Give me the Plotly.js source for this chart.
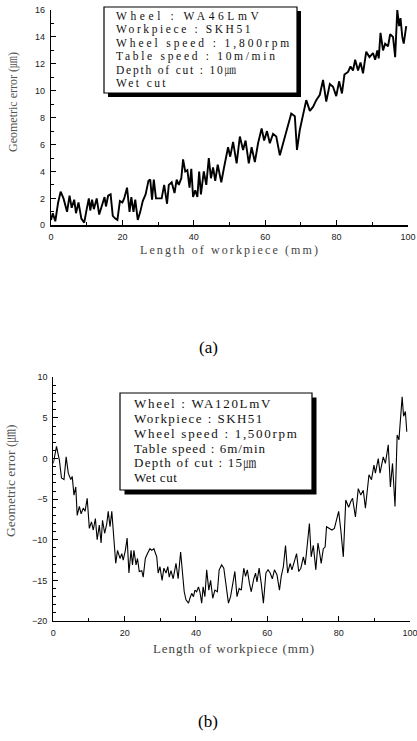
<!DOCTYPE html>
<html><head><meta charset="utf-8">
<script src="https://cdn.plot.ly/plotly-3.0.1.min.js"></script>
<style>html,body{margin:0;padding:0;background:#fff;overflow:hidden}</style>
</head><body><div id="chart" style="width:417px;height:741px"></div>
<script>
// ---- data (a) ----
const topX = [0,0.5,1.2,2,2.7,3.5,4.5,5.2,5.8,6.5,7,7.7,8.5,9.3,10,10.6,11,11.5,12,12.8,13.5,14.2,15,15.4,16,16.7,17.3,18,18.6,19.3,20,20.5,21.3,22,22.5,23.1,23.6,24.3,25,25.7,26.5,27.3,27.8,28.3,28.8,29.4,30,31,31.7,32.5,33,33.8,34.6,35.2,35.8,36.5,37,37.6,38.2,38.8,39.3,39.8,40.4,41,41.5,42,42.8,43.5,44.2,44.8,45.4,46,46.7,47.7,48.4,49,49.6,50.2,51,52,52.9,53.8,54.5,55.4,56.2,57.1,58,59,59.7,60.5,61.3,62.2,63.1,64.1,65,65.9,67.3,68.3,68.9,69.7,70.6,71.5,72.5,73.4,74.3,75.3,76.2,77.1,78.1,79,79.9,80.7,81.5,82.2,83.2,83.9,84.6,85.2,86,86.7,87.4,88.3,89.2,90.2,90.8,91.4,91.8,92.3,93,93.6,94.4,95,95.8,96.4,97,97.5,97.9,98.4,98.8,99.5];
const topY = [0.4,0.9,0.3,1.7,2.5,2.0,1.0,2.2,1.3,1.9,0.9,1.7,0.5,0.2,1.2,2.0,1.1,1.9,1.2,2.0,0.8,1.5,2.1,1.4,2.2,2.3,0.7,0.5,0.4,1.8,1.7,2.0,2.8,1.0,2.1,1.0,1.9,0.4,1.0,1.8,2.3,3.3,3.4,1.9,3.4,2.0,2.0,2.0,3.0,1.6,3.0,3.2,2.4,3.4,3.0,3.5,4.9,4.0,4.1,2.8,4.2,2.1,2.6,2.1,4.0,2.3,4.0,3.0,5.0,3.5,4.3,3.3,4.5,3.2,4.2,5.0,5.8,5.1,6.2,4.6,6.6,5.6,6.3,4.6,5.8,4.7,6.1,7.2,6.3,7.0,6.1,6.8,6.6,5.2,6.1,6.8,8.3,8.1,5.6,7.1,8.2,9.3,8.5,8.8,9.3,9.7,10.8,9.2,10.5,10.3,9.6,10.7,9.8,11.2,11.4,11.8,11.5,12.3,11.5,12.1,11.3,12.9,12.5,12.8,12.3,13.0,12.4,14.3,13.0,13.5,13.3,14.2,14.0,12.5,16.0,14.8,15.4,14.0,13.5,14.8];
// ---- data (b) ----
const botX = [0,0.9,1.7,2.3,3.0,3.6,4.2,4.9,5.3,5.8,6.3,6.7,7.3,7.8,8.4,8.9,9.5,10.1,10.7,11.2,11.8,12.3,12.9,13.4,13.8,14.4,15,15.4,15.9,16.4,17.0,17.5,18.0,18.7,19.2,19.6,20.2,20.7,21.2,21.8,22.2,22.6,23.2,23.6,24.1,24.8,25.2,25.8,26.4,27.1,27.6,28.2,29,29.4,29.9,30.5,31,31.6,32.1,32.5,33,33.6,34.4,35,35.7,36.3,36.7,37.2,37.9,38.3,38.8,39.3,39.7,40.2,40.7,41.1,41.6,42,42.5,43,43.6,44.1,44.7,45.3,46,46.5,47.2,47.8,48.4,49.1,49.7,50.2,50.9,51.5,52.1,52.7,53.4,53.9,54.4,55,55.5,56.2,56.7,57.1,57.7,58.3,58.9,59.6,60.2,60.8,61.4,62,62.7,63.4,63.9,64.5,65.1,65.7,66.4,66.9,67.6,68.2,68.8,69.4,70.1,70.6,71,71.8,72.3,72.9,73.6,74.2,74.7,75.1,75.7,76.2,76.6,77.4,78.1,78.8,79.2,80,80.6,81.3,82,82.8,83.4,83.9,84.7,85.5,86.2,86.9,87.5,88.5,89.2,89.9,90.3,91.1,91.6,92,92.5,93.1,93.9,94.5,95.1,95.8,96.4,96.9,97.4,97.8,98.2,98.7,99.1];
const botY = [-0.6,1.5,-0.2,-2.4,-2.6,0.2,-1.8,-2.6,-2.2,-4.5,-3.5,-7.0,-5.9,-6.8,-6.1,-6.5,-4.9,-8.6,-7.8,-8.8,-7.4,-10.0,-8.2,-10.4,-7.6,-9.2,-8.0,-6.5,-8.4,-6.5,-10.0,-12.9,-11.3,-12.3,-11.7,-12.5,-11.3,-9.8,-14.1,-11.3,-13.1,-11.3,-13.1,-12.3,-13.9,-13.8,-14.6,-12.3,-11.7,-11.1,-11.3,-11.1,-12.1,-14.1,-13.3,-15.0,-13.5,-14.1,-13.3,-14.6,-13.8,-14.8,-12.9,-14.8,-11.5,-15.0,-16.4,-17.4,-17.8,-17.2,-16.6,-17.0,-16.2,-16.4,-15.8,-16.4,-17.8,-15.8,-17.0,-13.7,-16.2,-15.0,-17.2,-16.2,-16.4,-13.7,-13.1,-13.5,-15.8,-17.8,-17.0,-15.8,-13.9,-17.0,-16.0,-16.2,-13.5,-14.5,-13.7,-15.4,-16.4,-14.8,-14.1,-15.2,-13.5,-15.4,-17.8,-14.1,-13.7,-14.1,-14.8,-13.7,-14.3,-16.2,-14.5,-13.3,-10.7,-14.1,-12.9,-13.7,-12.7,-11.7,-13.9,-13.5,-12.1,-13.1,-11.5,-8.0,-12.1,-10.7,-13.7,-10.4,-11.7,-12.9,-11.1,-10.9,-8.4,-8.6,-8.8,-8.6,-8.0,-6.5,-8.8,-12.1,-5.1,-6.0,-5.3,-4.9,-7.2,-3.7,-4.5,-3.9,-6.1,-2.0,-2.6,-0.8,-1.8,0.0,-1.8,-1.0,0.2,-0.6,1.7,-3.5,-0.6,-5.9,2.9,2.3,4.7,7.6,5.2,5.8,3.3];
// ---- text ----
const topInfo = ['Wheel : WA46LmV','Workpiece : SKH51','Wheel speed : 1,800rpm','Table speed : 10m/min','Depth of cut : 10㎛','Wet cut'];
const botInfo = ['Wheel : WA120LmV','Workpiece : SKH51','Wheel speed : 1,500rpm','Table speed : 6m/min','Depth of cut : 15㎛','Wet cut'];
const xTitle = 'Length of workpiece (mm)';
const yTitle = 'Geometric error (㎛)';
const captions = ['(a)','(b)'];
const xTicks = [0,20,40,60,80,100];

const W=417,H=741;
const px=v=>v/W, py=v=>1-v/H;
const SERIF='Liberation Serif, Times New Roman, Noto Serif CJK JP, Noto Sans CJK JP, serif';
const sp=(t,ls)=>'<span style="letter-spacing:'+ls+'px">'+t+'</span>';

function axis(extra){
  return Object.assign({showline:true,linecolor:'#000',linewidth:1.3,mirror:false,showgrid:false,zeroline:false,
    ticks:'inside',ticklen:5,tickwidth:1,tickcolor:'#000',ticklabelstandoff:3,ticklabeloverflow:'allow',
    tickfont:{family:'Liberation Sans, Arial, sans-serif',size:9,color:'#222'},fixedrange:true},extra);
}

const traces=[
  {x:topX,y:topY,type:'scatter',mode:'lines',line:{color:'#000',width:1.9},xaxis:'x',yaxis:'y',hoverinfo:'skip',cliponaxis:false},
  {x:botX,y:botY,type:'scatter',mode:'lines',line:{color:'#000',width:1.1},xaxis:'x2',yaxis:'y2',hoverinfo:'skip',cliponaxis:false}
];

const shapes=[];
function box(x0,y0,x1,y1,off){
  shapes.push({type:'rect',xref:'paper',yref:'paper',x0:px(x0+off),x1:px(x1+off),y0:py(y1+off),y1:py(y0+off),fillcolor:'#000',line:{width:0},layer:'above'});
  shapes.push({type:'rect',xref:'paper',yref:'paper',x0:px(x0),x1:px(x1),y0:py(y1),y1:py(y0),fillcolor:'#fff',line:{color:'#000',width:1.2},layer:'above'});
}
box(104,7,297,93,4);
box(120,393,312,490,4.5);

const ann=[];
const topLines=[16.3,29.8,43.3,56.8,70.2,83];
const topLS=[3.6,2.6,2.9,2.7,1.8,2.4];
const botLines=[403.3,418.3,433.3,448,462.7,477.3];
const botLS=[1.7,1.45,1.7,1.0,1.25,0.5];
topInfo.forEach((t,i)=>ann.push({text:sp(t,topLS[i]),x:px(114),y:py(topLines[i]),xanchor:'left',yanchor:'middle',font:{family:SERIF,size:11.5,color:'#111'}}));
botInfo.forEach((t,i)=>ann.push({text:sp(t,botLS[i]),x:px(132),y:py(botLines[i]),xanchor:'left',yanchor:'middle',font:{family:SERIF,size:13,color:'#111'}}));
ann.push({text:sp(xTitle,2.1),x:px(229.5),y:py(250),xanchor:'center',yanchor:'middle',font:{family:SERIF,size:12,color:'#444'}});
ann.push({text:sp(xTitle,0.9),x:px(234),y:py(648),xanchor:'center',yanchor:'middle',font:{family:SERIF,size:13,color:'#444'}});
ann.push({text:yTitle,x:px(12.5),y:py(102.5),textangle:-90,xanchor:'center',yanchor:'middle',font:{family:SERIF,size:12,color:'#555'}});
ann.push({text:yTitle,x:px(11),y:py(481),textangle:-90,xanchor:'center',yanchor:'middle',font:{family:SERIF,size:13.5,color:'#555'}});
ann.push({text:captions[0],x:px(208),y:py(347),xanchor:'center',yanchor:'middle',font:{family:SERIF,size:17,color:'#000'}});
ann.push({text:captions[1],x:px(208),y:py(721),xanchor:'center',yanchor:'middle',font:{family:SERIF,size:17,color:'#000'}});
ann.forEach(a=>{a.xref='paper';a.yref='paper';a.showarrow=false;});

const layout={
  width:W,height:H,margin:{l:0,r:0,t:0,b:0},paper_bgcolor:'#fff',plot_bgcolor:'rgba(0,0,0,0)',showlegend:false,
  xaxis:axis({domain:[px(51),px(408)],range:[0,100],tickvals:xTicks,anchor:'y',minor:{ticks:'inside',dtick:10,tick0:0,ticklen:3,tickcolor:'#000'}}),
  yaxis:axis({domain:[py(225.3),py(10)],range:[0,16],dtick:2,tick0:0,anchor:'x',minor:{ticks:'inside',dtick:1,tick0:0,ticklen:3,tickcolor:'#000'}}),
  xaxis2:axis({domain:[px(53.3),px(410)],range:[0,100],tickvals:xTicks,anchor:'y2',linewidth:1.1,minor:{ticks:'inside',dtick:10,tick0:0,ticklen:3,tickcolor:'#000'}}),
  yaxis2:axis({domain:[py(621),py(377.3)],range:[-20,10],dtick:5,tick0:0,anchor:'x2',linewidth:1.1,minor:{ticks:'inside',dtick:1,tick0:0,ticklen:3,tickcolor:'#000'}}),
  shapes:shapes,annotations:ann
};
Plotly.newPlot('chart',traces,layout,{staticPlot:true,displayModeBar:false});
</script></body></html>
